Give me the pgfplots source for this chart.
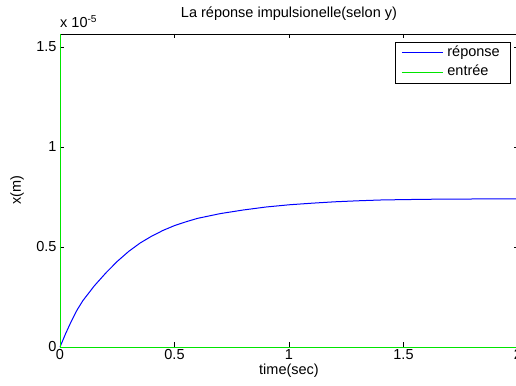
\documentclass[border=0pt]{standalone}
\usepackage{fontspec}
\setmainfont{Liberation Sans}
\usepackage{pgfplots}
\pgfplotsset{compat=1.18}
\definecolor{mgreen}{rgb}{0,0.9,0}
\definecolor{mblue}{rgb}{0,0,1}
\newcommand{\ff}{\fontsize{14.5}{16.5}\selectfont}
\begin{document}
\begin{tikzpicture}
\begin{axis}[name=a, scale only axis, width=458pt, height=313pt,
  xmin=0, xmax=2, ymin=0, ymax=1.565e-5,
  xtick={0,0.5,1,1.5,2}, ytick={0,0.5e-5,1e-5,1.5e-5},
  scaled y ticks=base 10:5, ytick scale label code/.code={},
  scaled x ticks=false,
  tick align=inside, major tick length=4.5pt, minor tick num=0,
  tick style={black, line width=0.5pt},
  axis line style={black, line width=0.6pt},
  /pgf/number format/assume math mode=true,
  ticklabel style={font=\ff},
  xticklabel style={yshift=1pt},
  title={La réponse impulsionelle(selon y)},
  title style={font=\ff, at={([yshift=10pt]axis description cs:0.5,1)}, anchor=base},
  xlabel={time(sec)},
  xlabel style={font=\ff, at={([yshift=-27.5pt]axis description cs:0.5,0)}, anchor=base},
  ylabel={x(m)},
  ylabel style={font=\ff, at={([xshift=-43pt]axis description cs:0,0.5)}, anchor=center},
  legend style={at={(rel axis cs:1,1)}, anchor=north east, xshift=-8pt, yshift=-8pt,
    font=\ff, inner xsep=6pt, inner ysep=1pt,
    nodes={inner xsep=4pt, inner ysep=3.2pt, text height=10pt, text depth=3pt}},
  legend cell align=left,
  legend image code/.code={\draw[mark repeat=2,mark phase=2,#1] plot coordinates {(0pt,0pt) (20pt,0pt) (41pt,0pt)};},
  clip=false,
]
\addplot[draw=mblue, line width=1pt] coordinates {
(0,0) (0.025,0.068e-5) (0.05,0.130e-5) (0.075,0.186e-5) (0.10,0.232e-5)
(0.15,0.306e-5) (0.20,0.370e-5) (0.25,0.428e-5) (0.30,0.478e-5) (0.35,0.520e-5)
(0.40,0.554e-5) (0.45,0.583e-5) (0.50,0.607e-5) (0.55,0.626e-5) (0.60,0.643e-5)
(0.70,0.667e-5) (0.80,0.685e-5) (0.90,0.700e-5) (1.00,0.711e-5) (1.10,0.719e-5)
(1.20,0.726e-5) (1.30,0.731e-5) (1.40,0.735e-5) (1.50,0.737e-5) (1.64,0.739e-5)
(1.80,0.740e-5) (2.00,0.741e-5)};
\addlegendentry{réponse}
\addplot[draw=mgreen, line width=0.9pt] coordinates {(0,1.565e-5) (0,0) (2,0)};
\addlegendentry{entrée}
\node[anchor=base west, inner sep=0pt, font=\ff] at ([yshift=6pt]rel axis cs:0,1) {x 10\textsuperscript{-5}};
\end{axis}
\pgfresetboundingbox
\path ([xshift=-60pt,yshift=-38pt]a.south west) rectangle ([xshift=-2pt,yshift=34pt]a.north east);
\end{tikzpicture}
\end{document}
